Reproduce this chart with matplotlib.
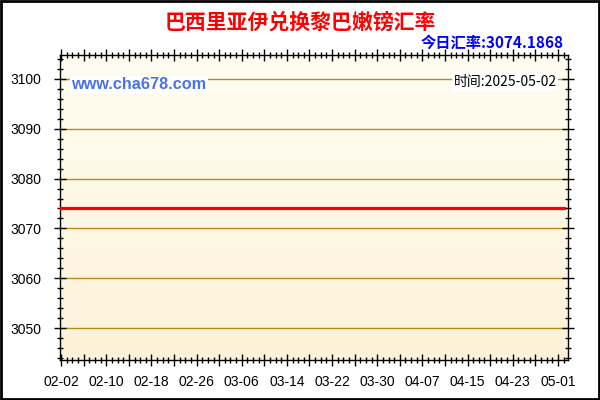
import numpy as np
import pandas as pd
import matplotlib
matplotlib.use('Agg')
import matplotlib.pyplot as plt
import matplotlib.dates as mdates
from matplotlib.ticker import MultipleLocator, FixedLocator, FuncFormatter
from matplotlib.patches import Rectangle

plt.rcParams['font.family'] = ['Liberation Sans', 'Noto Sans CJK SC', 'DejaVu Sans']

# data: the rate stays flat over the whole period
title = '巴西里亚伊兑换黎巴嫩镑汇率'
today_rate = 3074.1868
date_stamp = '2025-05-02'
dates = pd.date_range('2025-02-02', '2025-05-02', freq='D')
rates = [3074.1868] * len(dates)
tick_days = pd.date_range('2025-02-02', '2025-05-01', freq='4D')

fig = plt.figure(figsize=(6, 4), dpi=100)
fig.patch.set_facecolor('white')
ax = fig.add_axes([0.1, 0.1, 0.8467, 0.7625])

# cream gradient background
grad = np.linspace(0, 1, 256).reshape(-1, 1)
top = np.array([255, 253, 242]) / 255
bot = np.array([253, 242, 216]) / 255
img = top + (bot - top) * grad[..., None]
ax.imshow(img, extent=[0, 1, 0, 1], transform=ax.transAxes, aspect='auto', zorder=0)

for v in range(3050, 3101, 10):
    ax.axhline(v, color='#b88a1e', lw=1, zorder=1)

ax.plot(dates, rates, color='#ff0000', lw=2.3, zorder=3)

ax.set_xlim(mdates.date2num(pd.Timestamp('2025-02-02')) - 0.2,
            mdates.date2num(pd.Timestamp('2025-05-02')) + 0.8)
ax.set_ylim(3043.6, 3104.8)

ax.yaxis.set_major_locator(MultipleLocator(10))
ax.yaxis.set_minor_locator(MultipleLocator(2))
ax.set_yticks([3050, 3060, 3070, 3080, 3090, 3100])

# longer ticks every 4 days, labels every 8 days
ax.xaxis.set_major_locator(FixedLocator(mdates.date2num(tick_days)))
ax.xaxis.set_major_formatter(FuncFormatter(
    lambda x, pos: mdates.num2date(x).strftime('%m-%d') if pos % 2 == 0 else ''))
ax.xaxis.set_minor_locator(mdates.DayLocator())

for s in ax.spines.values():
    s.set_color('black')
    s.set_linewidth(1)

ax.tick_params(axis='both', which='major', direction='inout', length=9, width=1,
               labelsize=10, colors='black', top=True, right=True)
ax.tick_params(axis='both', which='minor', direction='inout', length=5, width=1,
               top=True, right=True)
ax.tick_params(axis='y', which='major', pad=9)
ax.tick_params(axis='x', which='major', pad=6)

# texts
fig.text(0.5, 0.945, title, color='#ff0000', fontsize=15, fontweight='bold',
         ha='center', va='center', family=['Noto Sans CJK SC', 'DejaVu Sans'])
fig.text(0.94, 0.893, '今日汇率:%.4f' % today_rate, color='#0000ff', fontsize=11,
         fontweight='bold', ha='right', va='center',
         family=['Noto Sans CJK SC', 'DejaVu Sans'])
ax.text(0.022, 0.902, 'www.cha678.com', transform=ax.transAxes, color='#4a72e8',
        fontsize=11.7, fontweight='bold', ha='left', va='center', zorder=4,
        bbox=dict(facecolor='white', edgecolor='none', pad=1))
ax.text(0.978, 0.91, '时间:' + date_stamp, transform=ax.transAxes, color='black',
        fontsize=10, ha='right', va='center', zorder=4,
        family=['Noto Sans CJK SC', 'DejaVu Sans'],
        bbox=dict(facecolor='white', edgecolor='none', pad=1))

fig.patches.append(Rectangle((0.002, 0.003), 0.996, 0.994, transform=fig.transFigure,
                             fill=False, edgecolor='black', lw=2))

fig.savefig('out.png', dpi=100)
